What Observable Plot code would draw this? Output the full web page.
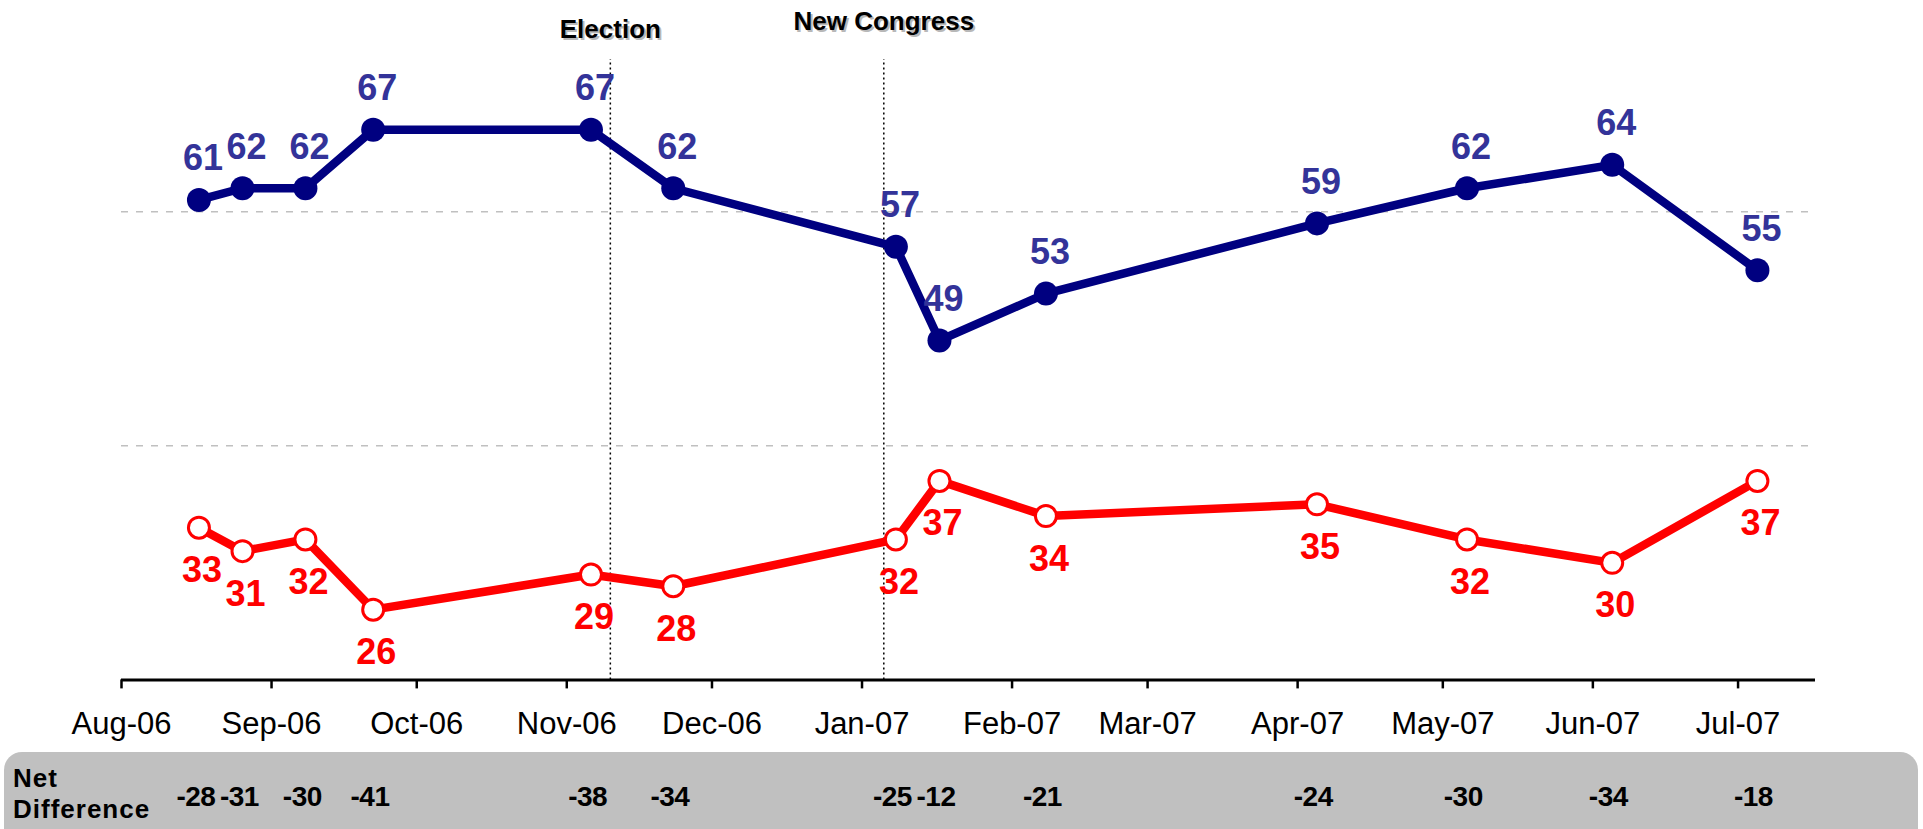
<!DOCTYPE html>
<html>
<head>
<meta charset="utf-8">
<script src="https://cdn.jsdelivr.net/npm/d3@7"></script>
<script src="https://cdn.jsdelivr.net/npm/@observablehq/plot@0.6"></script>
<style>
  html, body { margin: 0; padding: 0; background: #fff; }
  #wrap { position: relative; width: 1923px; height: 829px; overflow: hidden; font-family: "Liberation Sans", Arial, sans-serif; }
  #chart { position: absolute; left: 0; top: 0; }
  #netbox { position: absolute; left: 4px; top: 752px; width: 1914px; height: 110px; background: #c0c0c0; border-radius: 18px; }
  #netlabel { position: absolute; left: 9px; top: 11px; font-weight: bold; font-size: 26px; line-height: 31px; letter-spacing: 1px; color: #000; }
  #netplot { position: absolute; left: 0; top: 0; }
  #netplot text { letter-spacing: -0.5px; }
  svg { overflow: visible; }
</style>
</head>
<body>
<div id="wrap">
  <div id="chart"></div>
  <div id="netbox">
    <div id="netlabel">Net<br>Difference</div>
    <div id="netplot"></div>
  </div>
</div>
<script>
// ---- data ----
const surveyDates = ["2006-08-17","2006-08-26","2006-09-08","2006-09-22","2006-11-06","2006-11-23",
  "2007-01-08","2007-01-17","2007-02-08","2007-04-05","2007-05-06","2007-06-05","2007-07-05"];
const disapprove = [61, 62, 62, 67, 67, 62, 57, 49, 53, 59, 62, 64, 55];   // blue
const approve    = [33, 31, 32, 26, 29, 28, 32, 37, 34, 35, 32, 30, 37];   // red
const netDifference = [-28, -31, -30, -41, -38, -34, -25, -12, -21, -24, -30, -34, -18];

const eventDates  = ["2006-11-10", "2007-01-05T12:00:00Z"];
const eventLabels = ["Election", "New Congress"];

const tickDates  = ["2006-08-01","2006-09-01","2006-10-01","2006-11-01","2006-12-01","2007-01-01",
  "2007-02-01","2007-03-01","2007-04-01","2007-05-01","2007-06-01","2007-07-01"];
const tickLabels = ["Aug-06","Sep-06","Oct-06","Nov-06","Dec-06","Jan-07",
  "Feb-07","Mar-07","Apr-07","May-07","Jun-07","Jul-07"];

const xDomain = [new Date("2006-08-01"), new Date("2007-07-17")];
const yDomain = [20, 73];
const gridValues = [40, 60];

// ---- derived tables ----
const rows = surveyDates.map((d, i) => ({
  date: new Date(d), dis: disapprove[i], app: approve[i], net: netDifference[i]
}));
const events = eventDates.map((d, i) => ({date: new Date(d), label: eventLabels[i]}));
const ticks = tickDates.map(d => new Date(d));
const labelByTime = new Map(ticks.map((d, i) => [+d, tickLabels[i]]));

const FONT = "'Liberation Sans', Arial, sans-serif";

function eventLabel(i, dy) {
  const data = events.filter((d, j) => j === i);
  return [
    Plot.text(data, {x: "date", text: "label", frameAnchor: "top", lineAnchor: "middle", dy: dy + 2, dx: 2,
      fill: "#b8b8b8", fontSize: 26, fontWeight: "bold"}),
    Plot.text(data, {x: "date", text: "label", frameAnchor: "top", lineAnchor: "middle", dy: dy,
      fill: "black", fontSize: 26, fontWeight: "bold"})
  ];
}

const chart = Plot.plot({
  width: 1923,
  height: 752,
  marginLeft: 121,
  marginRight: 108,
  marginTop: 59,
  marginBottom: 72.6,
  x: {type: "utc", domain: xDomain},
  y: {domain: yDomain, axis: null},
  style: {fontFamily: FONT, background: "transparent", color: "black", overflow: "visible"},
  marks: [
    Plot.ruleY(gridValues, {stroke: "#c0c0c0", strokeWidth: 1.5, strokeDasharray: "7,8"}),
    Plot.ruleX(events, {x: "date", y1: yDomain[0], y2: yDomain[1], stroke: "black", strokeWidth: 1.5, strokeDasharray: "2,3"}),
    Plot.ruleY([yDomain[0]], {stroke: "black", strokeWidth: 3}),
    Plot.axisX({
      ticks: ticks,
      tickFormat: d => labelByTime.get(+d),
      tickSize: 9,
      tickPadding: 23,
      stroke: "black",
      strokeWidth: 2.5,
      fill: "black",
      fontSize: 31,
      label: null
    }),
    // red series
    Plot.line(rows, {x: "date", y: "app", stroke: "#ff0000", strokeWidth: 8.5, strokeLinejoin: "round"}),
    Plot.dot(rows, {x: "date", y: "app", r: 10.5, fill: "white", stroke: "#ff0000", strokeWidth: 3}),
    // blue series
    Plot.line(rows, {x: "date", y: "dis", stroke: "#000080", strokeWidth: 8.5, strokeLinejoin: "round"}),
    Plot.dot(rows, {x: "date", y: "dis", r: 12, fill: "#000080"}),
    // value labels
    Plot.text(rows, {x: "date", y: "dis", text: d => String(d.dis), dx: 4, dy: -41,
      fill: "#333399", fontSize: 36, fontWeight: "bold"}),
    Plot.text(rows, {x: "date", y: "app", text: d => String(d.app), dx: 3, dy: 43,
      fill: "#ff0000", fontSize: 36, fontWeight: "bold"}),
    // event labels (with soft shadow)
    ...eventLabel(0, -30),
    ...eventLabel(1, -38)
  ]
});
document.getElementById("chart").appendChild(chart);

// Net difference row, sharing the same x scale domain and pixel alignment
const netPlot = Plot.plot({
  width: 1914,
  height: 90,
  marginLeft: 117,
  marginRight: 104,
  marginTop: 0,
  marginBottom: 0,
  x: {type: "utc", domain: xDomain, axis: null},
  y: {axis: null},
  style: {fontFamily: FONT, background: "transparent", color: "black", overflow: "visible"},
  marks: [
    Plot.text(rows, {x: "date", text: d => String(d.net), frameAnchor: "middle", dx: -3,
      fill: "black", fontSize: 28, fontWeight: "bold"})
  ]
});
document.getElementById("netplot").appendChild(netPlot);
</script>
</body>
</html>
